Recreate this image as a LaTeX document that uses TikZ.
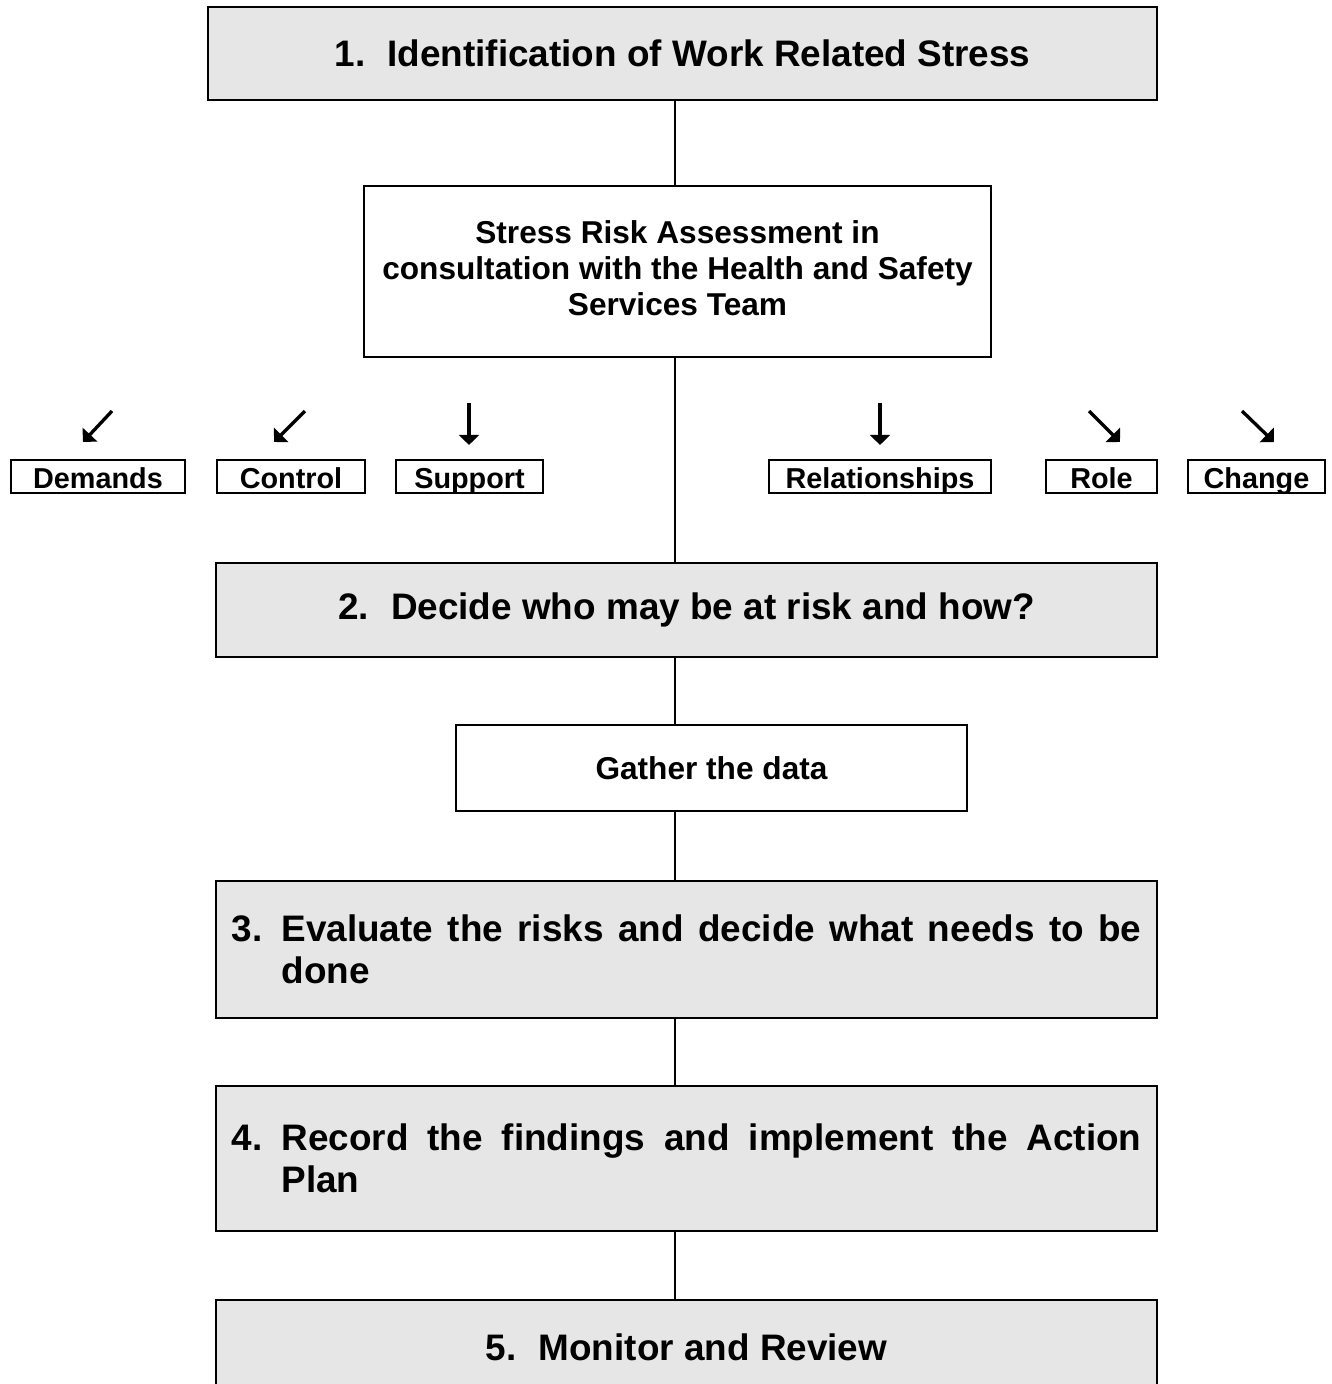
\documentclass[tikz,border=0pt]{standalone}
\usepackage{fontspec}
\setmainfont{Liberation Sans}
\usetikzlibrary{arrows.meta}
\definecolor{boxgray}{HTML}{E6E6E6}
\newcommand{\numpar}[2]{\makebox[1cm][l]{#1}\parbox[t]{17.2cm}{\noindent #2}}
\begin{document}
\begin{tikzpicture}[x=0.02cm,y=-0.02cm,
  stage/.style={draw, line width=1.1pt, fill=boxgray, inner sep=0pt,
    font=\fontsize{21}{24}\selectfont\bfseries},
  sub/.style={draw, line width=1.1pt, fill=white, inner sep=0pt, align=center,
    font=\fontsize{18}{20.5}\selectfont\bfseries},
  factor/.style={draw, line width=1.1pt, inner sep=0pt, minimum height=0.66cm,
    text height=13.5pt, text depth=0.3pt,
    font=\fontsize{16.4}{19}\selectfont\bfseries},
  link/.style={line width=0.6pt},
  glypharrow/.style={line width=1.9pt, -{Triangle[length=5.8pt,width=11.3pt]}}
]
\useasboundingbox (0,0) rectangle (1332,1384);
\coordinate (spine) at (675,0);

\node[stage, minimum width=18.98cm, minimum height=1.86cm] (b1) at (682.5,53.5)
  {1.\hspace{0.6em}Identification of Work Related Stress};
\node[sub, minimum width=12.54cm, minimum height=3.42cm] (sra) at (677.5,271.5)
  {Stress Risk Assessment in\\consultation with the Health and Safety\\Services Team\\[-17.1pt]};
\node[stage, minimum width=18.82cm, minimum height=1.88cm] (b2) at (686.5,610)
  {2.\hspace{0.6em}Decide who may be at risk and how?};
\node[sub, minimum width=10.22cm, minimum height=1.72cm] (gd) at (711.5,768)
  {Gather the data};
\node[stage, minimum width=18.82cm, minimum height=2.74cm] (b3) at (686.5,949.5)
  {\numpar{3.}{Evaluate the risks and decide what needs to be done}};
\node[stage, minimum width=18.82cm, minimum height=2.9cm] (b4) at (686.5,1158.5)
  {\numpar{4.}{Record the findings and implement the Action Plan}};
\node[stage, minimum width=18.82cm, minimum height=1.88cm] (b5) at (686.5,1347)
  {5.\hspace{0.6em}Monitor and Review};

\node[factor, minimum width=3.48cm] (dem) at (98,476.5) {Demands};
\node[factor, minimum width=2.96cm] (con) at (291,476.5) {Control};
\node[factor, minimum width=2.94cm] (sup) at (469.5,476.5) {Support};
\node[factor, minimum width=4.44cm] (rel) at (880,476.5) {Relationships};
\node[factor, minimum width=2.22cm] (rol) at (1101.5,476.5) {Role};
\node[factor, minimum width=2.74cm] (cha) at (1256.5,476.5) {Change};

\draw[link] (b1.south -| spine) -- (sra.north -| spine);
\draw[link] (sra.south -| spine) -- (b2.north -| spine);
\draw[link] (b2.south -| spine) -- (gd.north -| spine);
\draw[link] (gd.south -| spine) -- (b3.north -| spine);
\draw[link] (b3.south -| spine) -- (b4.north -| spine);
\draw[link] (b4.south -| spine) -- (b5.north -| spine);

\coordinate (a1s) at (112,411); \coordinate (a1e) at (83,442);
\coordinate (a2s) at (305,411); \coordinate (a2e) at (274,442);
\coordinate (a3s) at (469,403); \coordinate (a3e) at (469,445);
\coordinate (a4s) at (880,403); \coordinate (a4e) at (880,445);
\coordinate (a5s) at (1089,411); \coordinate (a5e) at (1120,442);
\coordinate (a6s) at (1242,411); \coordinate (a6e) at (1274,442);
\foreach \i in {1,...,6} \draw[glypharrow] (a\i s) -- (a\i e);
\end{tikzpicture}
\end{document}
